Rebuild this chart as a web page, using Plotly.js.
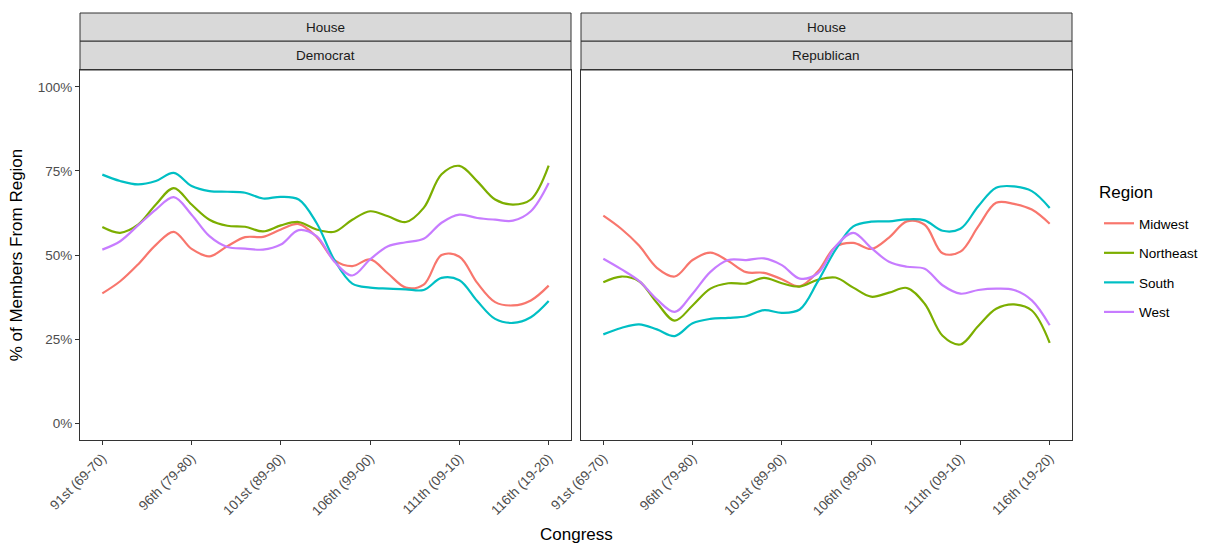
<!DOCTYPE html>
<html>
<head>
<meta charset="utf-8">
<script src="https://cdn.plot.ly/plotly-3.0.1.min.js"></script>
<style>html,body{margin:0;padding:0;background:#fff;}#chart{width:1210px;height:544px;}</style>
</head>
<body>
<div id="chart"></div>
<script>
// Congress numbers (x categories)
const congress = [91,92,93,94,95,96,97,98,99,100,101,102,103,104,105,106,107,108,109,110,111,112,113,114,115,116];
const tickVals = [91,96,101,106,111,116];
const tickLabels = ["91st (69-70)","96th (79-80)","101st (89-90)","106th (99-00)","111th (09-10)","116th (19-20)"];
const regions = ["Midwest","Northeast","South","West"];
const regionColors = ["#F8766D","#7CAE00","#00BFC4","#C77CFF"];
const panels = ["Democrat","Republican"];
const chamber = "House";
const yTickVals = [0,0.25,0.5,0.75,1];
const yTickLabels = ["0%","25%","50%","75%","100%"];

// % of members from region (House Democrats)
const demMidwest   = [38.6,42.2,47.2,53.0,56.9,51.8,49.6,52.6,55.3,55.4,57.6,59.2,55.4,48.5,46.7,48.7,44.5,40.3,41.2,50.0,49.5,41.7,36.0,35.0,36.5,40.9];
const demNortheast = [58.3,56.6,59.0,65.0,69.9,65.0,60.5,58.7,58.4,57.0,58.8,59.8,57.6,56.9,60.5,63.0,61.5,59.8,64.0,74.0,76.5,71.9,66.5,65.0,66.5,76.6];
const demSouth     = [73.9,72.0,71.0,72.0,74.4,70.5,69.0,68.8,68.5,66.8,67.3,66.5,59.5,48.5,41.5,40.3,40.0,39.8,39.6,43.2,42.5,36.3,31.0,29.8,31.5,36.3];
const demWest      = [51.6,54.1,58.8,63.5,67.2,62.0,55.6,52.4,51.9,51.6,53.1,57.4,55.6,48.0,43.9,48.7,52.6,53.8,54.8,59.6,62.0,61.0,60.5,60.2,63.0,71.4];

// % of members from region (House Republicans)
const repMidwest   = [61.7,57.8,52.8,46.2,43.6,48.5,50.7,48.2,44.9,44.7,42.8,40.7,45.0,52.4,53.6,51.8,55.2,60.0,59.0,50.5,51.0,58.5,65.5,65.2,63.5,59.3];
const repNortheast = [41.9,43.6,42.2,35.8,30.5,35.0,40.0,41.6,41.5,43.2,41.6,40.6,42.6,43.3,40.3,37.6,38.8,40.2,35.5,26.0,23.4,28.9,34.0,35.3,33.5,23.9];
const repSouth     = [26.4,28.3,29.4,27.9,25.9,29.7,31.0,31.3,31.8,33.6,32.8,33.8,42.0,51.5,58.5,59.9,60.0,60.6,60.3,57.2,57.8,64.5,70.0,70.4,69.0,64.0];
const repWest      = [48.9,45.8,42.3,36.8,33.1,38.5,45.0,48.5,48.5,49.0,47.0,43.0,44.5,52.5,56.6,52.1,48.0,46.5,45.9,41.0,38.5,39.6,40.0,39.6,36.5,29.1];

const seriesByPanel = [
  [demMidwest, demNortheast, demSouth, demWest],
  [repMidwest, repNortheast, repSouth, repWest]
];

const traces = [];
seriesByPanel.forEach((set, p) => {
  set.forEach((vals, r) => {
    traces.push({
      type: "scatter", mode: "lines",
      x: congress, y: vals.map(v => v / 100),
      xaxis: p === 0 ? "x" : "x2", yaxis: p === 0 ? "y" : "y2",
      name: regions[r], legendgroup: regions[r], showlegend: p === 0,
      line: {color: regionColors[r], width: 2.2, shape: "spline", smoothing: 1.0},
      hoverinfo: "skip"
    });
  });
});

const W = 992, H = 370;
const d1 = [0, 491 / W], d2 = [501 / W, 1];
const s1 = [1, 1 + 29 / H], s2 = [1 + 29 / H, 1 + 57 / H];
const FONT = "Liberation Sans, Arial, sans-serif";

const axisX = (dom) => ({
  domain: dom, range: [89.75, 117.25], showgrid: false, zeroline: false,
  showline: true, mirror: true, linecolor: "#333333", linewidth: 1,
  ticks: "outside", ticklen: 4, tickwidth: 1, tickcolor: "#333333",
  tickvals: tickVals, ticktext: tickLabels, tickangle: -45,
  tickfont: {family: FONT, size: 13.5, color: "#4d4d4d"}
});

const shapes = [];
const annotations = [];
[d1, d2].forEach((dom, p) => {
  shapes.push({type: "rect", xref: "paper", yref: "paper", x0: dom[0], x1: dom[1], y0: s1[0], y1: s1[1],
    fillcolor: "#d9d9d9", line: {color: "#333333", width: 1}, layer: "below"});
  shapes.push({type: "rect", xref: "paper", yref: "paper", x0: dom[0], x1: dom[1], y0: s2[0], y1: s2[1],
    fillcolor: "#d9d9d9", line: {color: "#333333", width: 1}, layer: "below"});
  annotations.push({xref: "paper", yref: "paper", x: (dom[0] + dom[1]) / 2, y: (s2[0] + s2[1]) / 2,
    text: chamber, showarrow: false, xanchor: "center", yanchor: "middle",
    font: {family: FONT, size: 13.5, color: "#1a1a1a"}});
  annotations.push({xref: "paper", yref: "paper", x: (dom[0] + dom[1]) / 2, y: (s1[0] + s1[1]) / 2,
    text: panels[p], showarrow: false, xanchor: "center", yanchor: "middle",
    font: {family: FONT, size: 13.5, color: "#1a1a1a"}});
});
annotations.push({xref: "paper", yref: "paper", x: (576 - 80) / W, y: (440 - 534) / H,
  text: "Congress", showarrow: false, xanchor: "center", yanchor: "middle",
  font: {family: FONT, size: 17, color: "#000000"}});
annotations.push({xref: "paper", yref: "paper", x: (1097 - 80) / W, y: (440 - 192) / H,
  text: "Region", showarrow: false, xanchor: "left", yanchor: "middle",
  font: {family: FONT, size: 17, color: "#000000"}});

const layout = {
  width: 1210, height: 544,
  margin: {l: 80, r: 138, t: 70, b: 104, pad: 0},
  paper_bgcolor: "#ffffff", plot_bgcolor: "#ffffff",
  showlegend: true,
  xaxis: axisX(d1),
  xaxis2: axisX(d2),
  yaxis: {
    domain: [0, 1], range: [-0.05, 1.05], showgrid: false, zeroline: false,
    showline: true, mirror: true, linecolor: "#333333", linewidth: 1,
    ticks: "outside", ticklen: 4, tickwidth: 1, tickcolor: "#333333",
    tickvals: yTickVals, ticktext: yTickLabels,
    tickfont: {family: FONT, size: 13.5, color: "#4d4d4d"},
    title: {text: "% of Members From Region", standoff: 10,
      font: {family: FONT, size: 17, color: "#000000"}}
  },
  yaxis2: {
    domain: [0, 1], range: [-0.05, 1.05], anchor: "x2", matches: "y", showgrid: false, zeroline: false,
    showline: true, mirror: true, linecolor: "#333333", linewidth: 1,
    ticks: "", showticklabels: false
  },
  legend: {
    xref: "container", yref: "container",
    x: 1099 / 1210, y: 1 - 208 / 544, xanchor: "left", yanchor: "top",
    font: {family: FONT, size: 13.5, color: "#000000"},
    tracegroupgap: 9, bgcolor: "rgba(0,0,0,0)"
  },
  shapes: shapes,
  annotations: annotations
};

Plotly.newPlot("chart", traces, layout, {displayModeBar: false, staticPlot: true});
</script>
</body>
</html>
